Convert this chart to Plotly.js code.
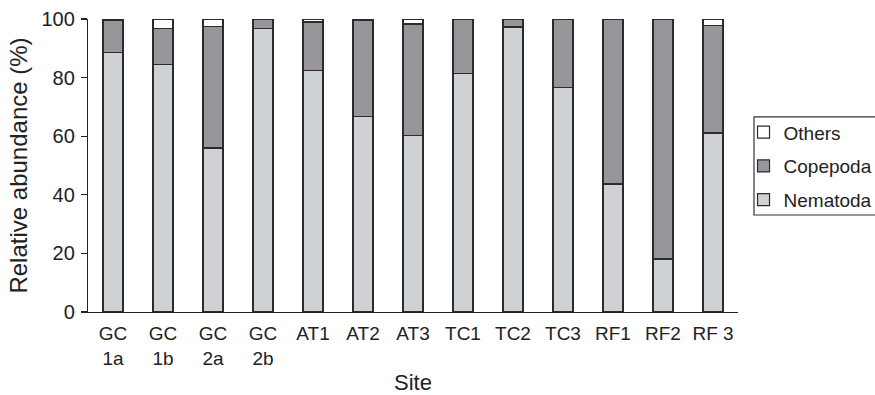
<!DOCTYPE html>
<html>
<head>
<meta charset="utf-8">
<script src="https://cdn.plot.ly/plotly-3.0.1.min.js"></script>
<style>html,body{margin:0;padding:0;background:#fff;}#chart{width:875px;height:395px;}</style>
</head>
<body>
<div id="chart"></div>
<script>
const sites = ["GC<br>1a","GC<br>1b","GC<br>2a","GC<br>2b","AT1","AT2","AT3","TC1","TC2","TC3","RF1","RF2","RF 3"];
const nematoda = [88.5, 84.5, 56.0, 96.7, 82.5, 66.6, 60.2, 81.5, 97.3, 76.6, 43.7, 18.1, 61.1];
const copepoda = [11.0, 12.3, 41.4, 3.3, 16.5, 32.9, 38.1, 18.5, 2.7, 23.4, 56.3, 81.9, 36.7];
const others   = [0.5, 3.2, 2.6, 0.0, 1.0, 0.5, 1.7, 0.0, 0.0, 0.0, 0.0, 0.0, 2.2];

const line = {color: "#2b2b2b", width: 1.2};
const traces = [
  {type: "bar", name: "Nematoda", legendgroup: "n", legendrank: 3, x: sites, y: nematoda, marker: {color: "#cfd2d5", line: line}},
  {type: "bar", name: "Copepoda", legendgroup: "c", legendrank: 2, x: sites, y: copepoda, marker: {color: "#98969b", line: line}},
  {type: "bar", name: "Others", legendgroup: "o", legendrank: 1, x: sites, y: others, marker: {color: "#ffffff", line: line}}
];

const layout = {
  width: 875, height: 395,
  margin: {l: 88, r: 137, t: 19, b: 83, autoexpand: false},
  barmode: "stack",
  bargap: 0.6,
  paper_bgcolor: "#fff", plot_bgcolor: "#fff",
  font: {family: "Liberation Sans, Arial, sans-serif", color: "#222", size: 19},
  showlegend: true,
  legend: {
    x: 1.0085, xanchor: "left", y: 0.678, yanchor: "top",
    borderwidth: 0, bgcolor: "rgba(0,0,0,0)",
    font: {size: 19, color: "#222"},
    traceorder: "grouped",
    tracegroupgap: 6,
    itemwidth: 30
  },
  shapes: [
    {type: "rect", xref: "paper", yref: "paper", x0: 1.0246, x1: 1.25, y0: 0.331, y1: 0.666,
     line: {color: "#333", width: 1.2}, fillcolor: "rgba(0,0,0,0)", layer: "above"}
  ],
  xaxis: {
    showline: true, linecolor: "#222", linewidth: 1.2,
    ticks: "", showgrid: false, zeroline: false,
    tickfont: {size: 19},
    ticklabelstandoff: 4,
    title: {text: "Site", font: {size: 22}, standoff: 14}
  },
  yaxis: {
    range: [0, 100], tickvals: [0, 20, 40, 60, 80, 100],
    showline: true, linecolor: "#222", linewidth: 1.2,
    ticks: "outside", ticklen: 6, tickcolor: "#222", tickwidth: 1.2,
    showgrid: false, zeroline: false,
    tickfont: {size: 20},
    ticklabelstandoff: 2,
    title: {text: "Relative abundance (%)", font: {size: 24}, standoff: 7}
  }
};

Plotly.newPlot("chart", traces, layout, {displayModeBar: false, staticPlot: true});
</script>
</body>
</html>
